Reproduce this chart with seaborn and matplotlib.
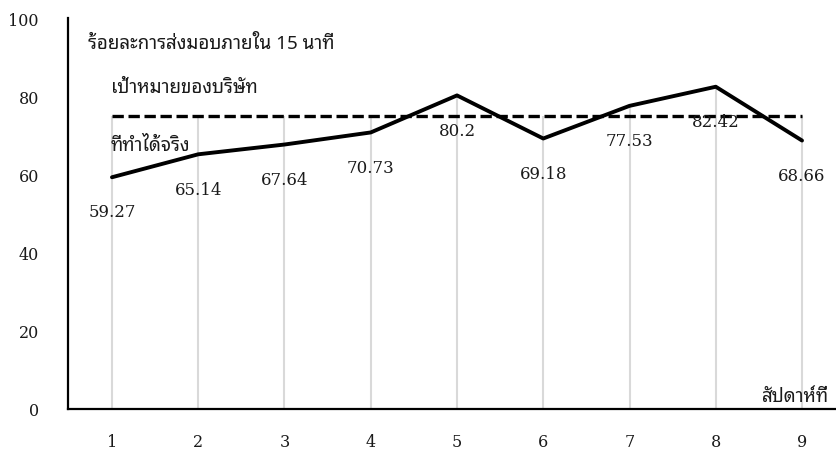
import matplotlib
matplotlib.use("Agg")
import matplotlib.pyplot as plt
import seaborn as sns
import numpy as np
import pandas as pd

weeks = [1, 2, 3, 4, 5, 6, 7, 8, 9]
actual = [59.27, 65.14, 67.64, 70.73, 80.2, 69.18, 77.53, 82.42, 68.66]
target = [75, 75, 75, 75, 75, 75, 75, 75, 75]
y_ticks = [0, 20, 40, 60, 80, 100]

title_text = "ร้อยละการส่งมอบภายใน 15 นาที"
target_text = "เป้าหมายของบริษัท"
actual_text = "ที่ทำได้จริง"
xlabel_text = "สัปดาห์ที่"

sns.set_theme(style="white")
thai_font = ["Noto Sans Thai Looped", "DejaVu Sans"]
num_font = "DejaVu Serif"

df = pd.DataFrame({"week": weeks, "actual": actual, "target": target})

fig = plt.figure(figsize=(8.36, 4.52), dpi=100)
ax = fig.add_axes([68 / 836, 1 - 410 / 452, 1 - 68 / 836, (410 - 19) / 452])

# drop lines from the higher of actual/target down to the axis
tops = np.maximum(df["actual"], df["target"])
ax.vlines(df["week"], 0, tops, color="#d9d9d9", lw=1.5, zorder=1)

sns.lineplot(data=df, x="week", y="target", ax=ax, color="black", lw=2.4,
             zorder=3)
ax.lines[-1].set_dashes((3.4, 1.4))
sns.lineplot(data=df, x="week", y="actual", ax=ax, color="black", lw=2.8,
             zorder=4)

for w, v in zip(weeks, actual):
    ax.annotate(f"{v:g}", (w, v), xytext=(0, -25), textcoords="offset points",
                ha="center", va="center", fontsize=12, family=num_font,
                color="#1a1a1a", zorder=5)

ax.set_xlim(1 - 44 / 86.3, 9 + 34 / 86.3)
ax.set_ylim(0, 100)
ax.set_xticks(weeks)
ax.set_xticklabels([str(w) for w in weeks], family=num_font, fontsize=11.5)
ax.set_yticks(y_ticks)
ax.set_yticklabels([str(t) for t in y_ticks], family=num_font, fontsize=11.5)
ax.tick_params(axis="x", length=0, pad=17, colors="#1a1a1a")
ax.tick_params(axis="y", length=0, pad=21, colors="#1a1a1a")
ax.set_xlabel("")
ax.set_ylabel("")

for side in ("top", "right"):
    ax.spines[side].set_visible(False)
for side in ("left", "bottom"):
    ax.spines[side].set_color("black")
    ax.spines[side].set_linewidth(1.6)

ax.text(0.72, 93.6, title_text, family=thai_font, fontsize=13.5,
        ha="left", va="center", color="#1a1a1a")
ax.text(0.99, 82.3, target_text, family=thai_font, fontsize=13.5,
        ha="left", va="center", color="#1a1a1a")
ax.text(0.98, 67.5, actual_text, family=thai_font, fontsize=13.5,
        ha="left", va="center", color="#1a1a1a")
ax.text(9.31, 3.3, xlabel_text, family=thai_font, fontsize=13.5,
        ha="right", va="center", color="#1a1a1a")

fig.savefig("out.png", dpi=100)
